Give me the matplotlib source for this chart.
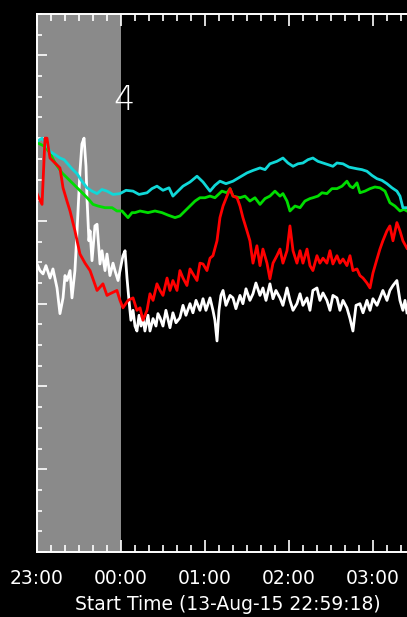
import matplotlib
matplotlib.use("Agg")
import matplotlib.pyplot as plt
from matplotlib.ticker import MultipleLocator, FuncFormatter
import numpy as np

plt.rcParams["font.family"] = "DejaVu Sans"

# minutes after 23:00 and intensity (arbitrary units, no y labels in the original)
t_cyan = [0, 3.6, 6.4, 9.3, 12.9, 16.4, 19.3, 21.4, 25.0, 28.6, 32.1, 35.7, 39.3, 42.9, 46.4, 50.0,
          54.3, 59.3, 63.6, 68.6, 72.9, 78.6, 82.1, 85.7, 90.0, 94.3, 97.1, 100.7, 104.3, 109.3,
          114.3, 118.6, 123.6, 127.1, 130.7, 135.0, 140.0, 145.0, 150.0, 154.3, 159.3, 162.9,
          166.4, 171.4, 175.7, 179.3, 182.9, 186.4, 190.0, 193.6, 197.1, 200.7, 204.3, 207.9,
          211.4, 214.3, 218.6, 222.9, 228.6, 232.1, 235.7, 239.3, 242.9, 246.4, 250.0, 253.6,
          257.1, 259.3, 261.4, 264.3]
y_cyan = [4.96, 5.00, 4.93, 4.84, 4.80, 4.76, 4.74, 4.70, 4.63, 4.57, 4.48, 4.40, 4.36, 4.33, 4.38, 4.36,
          4.32, 4.33, 4.37, 4.36, 4.32, 4.34, 4.39, 4.42, 4.37, 4.40, 4.30, 4.36, 4.42, 4.47,
          4.54, 4.47, 4.36, 4.43, 4.48, 4.45, 4.48, 4.53, 4.58, 4.61, 4.64, 4.62,
          4.69, 4.72, 4.76, 4.70, 4.66, 4.69, 4.70, 4.74, 4.76, 4.72, 4.70, 4.68,
          4.66, 4.70, 4.69, 4.65, 4.63, 4.62, 4.60, 4.55, 4.51, 4.49, 4.45, 4.40,
          4.36, 4.30, 4.16, 4.16]

t_green = [0, 0.7, 5.7, 9.3, 12.9, 17.9, 22.1, 25.7, 29.3, 32.9, 36.4, 40.0, 43.6, 48.6, 53.6, 57.1,
           60.7, 65.0, 67.9, 70.0, 73.6, 79.3, 84.3, 89.3, 93.6, 98.6, 102.1, 105.7, 109.3, 112.9,
           116.4, 120.0, 123.6, 127.1, 132.1, 135.7, 137.9, 140.0, 145.0, 148.6, 152.1, 155.7,
           159.3, 162.9, 166.4, 170.0, 173.6, 175.7, 178.6, 180.7, 184.3, 187.9, 191.4, 195.0,
           197.1, 200.7, 203.6, 207.1, 210.7, 214.3, 217.9, 221.4, 223.6, 225.7, 228.6, 230.7,
           234.3, 237.9, 241.4, 245.0, 248.6, 252.1, 255.7, 259.3, 262.1, 264.3]
y_green = [4.96, 4.94, 4.90, 4.82, 4.70, 4.58, 4.51, 4.45, 4.39, 4.33, 4.27, 4.20, 4.18, 4.16, 4.16, 4.12,
           4.12, 4.04, 4.10, 4.10, 4.12, 4.10, 4.12, 4.10, 4.07, 4.04, 4.06, 4.12, 4.18, 4.24,
           4.28, 4.28, 4.30, 4.28, 4.36, 4.34, 4.39, 4.30, 4.28, 4.30, 4.24, 4.28,
           4.20, 4.27, 4.30, 4.36, 4.30, 4.33, 4.24, 4.12, 4.18, 4.16, 4.24, 4.27,
           4.28, 4.30, 4.34, 4.33, 4.39, 4.39, 4.42, 4.48, 4.42, 4.40, 4.46, 4.34,
           4.36, 4.39, 4.41, 4.40, 4.36, 4.22, 4.18, 4.12, 4.14, 4.12]

t_red = [0, 0.7, 3.6, 5.7, 7.1, 9.3, 16.4, 18.6, 21.4, 23.6, 27.1, 30.7, 34.3, 37.9, 42.9, 47.1,
         50.0, 52.1, 57.1, 59.3, 61.4, 65.0, 68.6, 71.4, 73.6, 75.7, 78.6, 80.7, 82.9, 85.7,
         87.9, 90.0, 92.9, 95.0, 97.1, 100.0, 102.1, 104.3, 107.1, 109.3, 111.4, 114.3, 116.4,
         118.6, 121.4, 123.6, 125.7, 128.6, 130.7, 132.9, 135.7, 137.9, 140.0, 142.9, 145.0,
         147.1, 150.0, 152.1, 154.3, 157.1, 159.3, 161.4, 164.3, 166.4, 168.6, 171.4, 173.6,
         175.7, 178.6, 180.7, 182.9, 185.7, 187.9, 190.0, 192.9, 195.0, 197.1, 200.0, 202.1,
         204.3, 207.1, 209.3, 211.4, 214.3, 216.4, 218.6, 221.4, 223.6, 225.7, 228.6, 230.7,
         232.9, 235.7, 237.9, 240.0, 242.9, 245.0, 247.1, 250.0, 252.1, 254.3, 257.1, 259.3,
         261.4, 264.3]
y_red = [4.33, 4.30, 4.20, 5.00, 5.00, 4.76, 4.64, 4.40, 4.24, 4.12, 3.88, 3.60, 3.49, 3.40, 3.16, 3.24,
         3.10, 3.12, 3.16, 3.04, 2.95, 3.04, 3.07, 2.92, 2.95, 2.80, 2.92, 3.12, 3.04, 3.24,
         3.16, 3.10, 3.31, 3.16, 3.28, 3.16, 3.40, 3.31, 3.22, 3.42, 3.36, 3.28, 3.49,
         3.48, 3.40, 3.55, 3.58, 3.76, 4.04, 4.18, 4.30, 4.39, 4.30, 4.28, 4.18,
         4.04, 3.88, 3.76, 3.49, 3.70, 3.46, 3.66, 3.49, 3.30, 3.49, 3.58, 3.66,
         3.49, 3.64, 3.94, 3.64, 3.49, 3.64, 3.49, 3.66, 3.46, 3.40, 3.58, 3.49,
         3.55, 3.49, 3.64, 3.48, 3.58, 3.49, 3.54, 3.46, 3.58, 3.40, 3.42, 3.34,
         3.31, 3.25, 3.19, 3.37, 3.54, 3.66, 3.76, 3.88, 3.94, 3.76, 3.98, 3.88,
         3.76, 3.67]

t_white = [0, 2.1, 4.3, 6.4, 9.3, 11.4, 14.3, 16.4, 18.6, 20.0, 21.4, 23.6, 25.0, 27.1, 28.6, 30.7,
           32.1, 33.6, 35.0, 35.7, 37.1, 37.9, 39.3, 41.4, 42.9, 45.0, 46.4, 48.6, 50.0, 52.1,
           54.3, 55.7, 57.9, 59.3, 61.4, 62.9, 64.3, 65.7, 67.1, 68.6, 70.0, 71.4, 72.9, 74.3,
           75.7, 77.1, 79.3, 80.7, 82.9, 85.0, 86.4, 87.9, 90.0, 92.1, 95.0, 97.1, 99.3, 102.1,
           104.3, 106.4, 109.3, 111.4, 113.6, 116.4, 118.6, 120.7, 123.6, 125.7, 127.1, 128.6,
           130.0, 131.4, 132.9, 135.0, 137.9, 140.0, 142.1, 145.0, 147.1, 149.3, 152.1, 154.3,
           156.4, 159.3, 161.4, 163.6, 166.4, 168.6, 170.7, 173.6, 175.7, 178.6, 180.7, 182.9,
           185.7, 187.9, 190.0, 192.9, 195.0, 197.1, 200.0, 202.1, 204.3, 207.1, 209.3, 211.4,
           214.3, 216.4, 218.6, 221.4, 223.6, 225.7, 227.9, 230.7, 232.9, 235.7, 237.9, 240.0,
           242.9, 245.0, 247.1, 250.0, 252.1, 254.3, 257.1, 259.3, 261.4, 262.9, 264.3]
y_white = [3.48, 3.40, 3.36, 3.46, 3.31, 3.42, 3.19, 2.88, 3.07, 3.34, 3.28, 3.40, 3.07, 3.40, 3.88, 4.60,
           4.93, 5.00, 4.66, 4.28, 3.76, 3.88, 3.52, 3.94, 3.96, 3.48, 3.64, 3.40, 3.60, 3.34,
           3.49, 3.40, 3.28, 3.40, 3.58, 3.64, 3.31, 3.04, 2.80, 2.92, 2.73, 2.67, 2.86, 2.73,
           2.83, 2.67, 2.86, 2.67, 2.82, 2.73, 2.88, 2.83, 2.73, 2.92, 2.71, 2.89, 2.77, 2.83,
           2.98, 2.86, 3.00, 2.89, 3.04, 2.92, 3.06, 2.92, 3.07, 2.92, 2.80, 2.55,
           2.92, 3.10, 3.16, 2.98, 3.10, 3.07, 2.94, 3.10, 3.00, 3.18, 3.04, 3.12,
           3.25, 3.10, 3.19, 3.04, 3.24, 3.06, 3.16, 3.07, 2.98, 3.19, 3.04, 2.92,
           3.00, 3.12, 2.98, 3.07, 2.92, 3.16, 3.19, 3.04, 3.13, 3.04, 2.92, 3.10,
           3.07, 2.92, 3.04, 2.95, 2.82, 2.67, 2.98, 3.00, 2.89, 3.04, 2.92, 3.06,
           2.98, 3.07, 3.16, 3.04, 3.16, 3.22, 3.28, 3.04, 2.92, 3.04, 2.89]

shade_start, shade_end = 0, 60
label_text = "4"
xlabel_text = "Start Time (13-Aug-15 22:59:18)"

fig = plt.figure(figsize=(4.07, 6.17), dpi=100, facecolor="black")
ax = fig.add_axes([37 / 407, 65 / 617, 382 / 407, 538 / 617], facecolor="black")

ax.axvspan(shade_start, shade_end, color="#8a8a8a", lw=0, zorder=0)
ax.plot(t_white, y_white, color="white", lw=2)
ax.plot(t_green, y_green, color="#00dd00", lw=2)
ax.plot(t_cyan, y_cyan, color="#10d8d8", lw=2)
ax.plot(t_red, y_red, color="#ff0000", lw=2)

ax.text(62, 5.45, label_text, color="white", fontsize=24, fontweight="light",
        ha="center", va="center")

ax.set_xlim(0, 272.9)
ax.set_ylim(0, 6.5)

ax.xaxis.set_major_locator(MultipleLocator(60))
ax.xaxis.set_minor_locator(MultipleLocator(10))
ax.xaxis.set_major_formatter(FuncFormatter(lambda m, p: "%02d:00" % ((23 + int(round(m)) // 60) % 24)))
ax.yaxis.set_major_locator(MultipleLocator(1))
ax.yaxis.set_minor_locator(MultipleLocator(0.25))
ax.yaxis.set_major_formatter(FuncFormatter(lambda v, p: ""))

ax.tick_params(axis="x", which="major", direction="in", length=8.5, width=1.2, color="white",
               top=True, labelcolor="white", labelsize=13.5, pad=12)
ax.tick_params(axis="x", which="minor", direction="in", length=5, width=1.2, color="white", top=True)
ax.tick_params(axis="y", which="major", direction="in", length=7, width=1.2, color="white", right=True)
ax.tick_params(axis="y", which="minor", direction="in", length=3.5, width=1.2, color="white", right=True)

for s in ax.spines.values():
    s.set_color("white")
    s.set_linewidth(1.4)

ax.set_xlabel(xlabel_text, color="white", fontsize=13.5, labelpad=5)

fig.savefig("out.png", dpi=100, facecolor="black")
